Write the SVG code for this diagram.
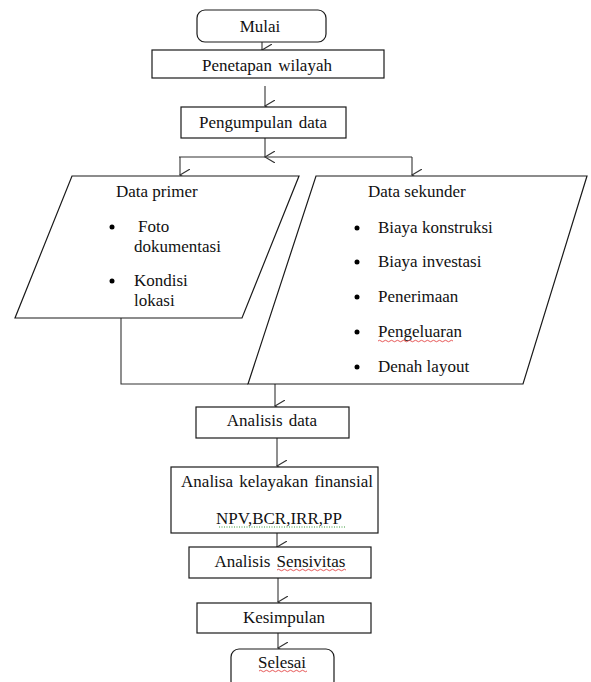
<svg xmlns="http://www.w3.org/2000/svg" width="591" height="682" viewBox="0 0 591 682">
<style>
.box{fill:#fff;stroke:#1a1a1a;stroke-width:1.2}
.ln{fill:none;stroke:#333;stroke-width:1.1}
.t{font-family:"Liberation Serif","Times New Roman",serif;font-size:17px;fill:#111}
.c{text-anchor:middle}
.sq{fill:none;stroke:#e03030;stroke-width:0.8}
.sg{fill:none;stroke:#3a9a3a;stroke-width:1;stroke-dasharray:1 1.5}
</style>
<defs>
<marker id="arr" markerWidth="12" markerHeight="12" refX="6" refY="10" orient="auto" markerUnits="userSpaceOnUse" viewBox="0 0 12 12">
<path d="M0,0 L6,10 L12,0" fill="none" stroke="#333" stroke-width="1.1"/>
</marker>
</defs>
<g id="connectors">
<line class="ln" x1="262" y1="42" x2="262" y2="50" marker-end="url(#arr)"/>
<line class="ln" x1="265" y1="86" x2="265" y2="106" marker-end="url(#arr)"/>
<line class="ln" x1="265" y1="138" x2="265" y2="157" marker-end="url(#arr)"/>
<polyline class="ln" points="179,157 412,157"/>
<line class="ln" x1="180" y1="157" x2="180" y2="175" marker-end="url(#arr)"/>
<line class="ln" x1="412" y1="157" x2="412" y2="175" marker-end="url(#arr)"/>
<polyline class="ln" points="121,318 121,384 248,384"/>
<line class="ln" x1="424" y1="376" x2="424" y2="384"/>
<line class="ln" x1="275" y1="384" x2="275" y2="406" marker-end="url(#arr)"/>
<line class="ln" x1="277" y1="438" x2="277" y2="466" marker-end="url(#arr)"/>
<line class="ln" x1="277" y1="533" x2="277" y2="547" marker-end="url(#arr)"/>
<line class="ln" x1="278" y1="578" x2="278" y2="602" marker-end="url(#arr)"/>
<line class="ln" x1="278" y1="633" x2="278" y2="648" marker-end="url(#arr)"/>
</g>
<g id="mulai">
<rect class="box" x="197" y="10" width="129" height="32" rx="8"/>
<text class="t c" x="260" y="32">Mulai</text>
</g>
<g id="penetapan">
<rect class="box" x="152" y="50" width="232" height="28"/>
<text class="t c" x="267" y="71" word-spacing="2">Penetapan wilayah</text>
</g>
<g id="pengumpulan">
<rect class="box" x="181" y="107" width="165" height="31"/>
<text class="t c" x="263" y="128" word-spacing="2">Pengumpulan data</text>
</g>
<g id="data-primer">
<polygon class="box" points="72,176 299,176 242,318 15,318"/>
<text class="t" x="116" y="197">Data primer</text>
<circle cx="112" cy="227" r="2.5" fill="#000"/>
<text class="t" x="138" y="232">Foto</text>
<text class="t" x="134" y="252">dokumentasi</text>
<circle cx="112" cy="281" r="2.5" fill="#000"/>
<text class="t" x="134" y="286">Kondisi</text>
<text class="t" x="134" y="306">lokasi</text>
</g>
<g id="data-sekunder">
<polygon class="box" points="316,176 587,176 523,384 248,384"/>
<text class="t" x="368" y="197">Data sekunder</text>
<circle cx="357" cy="228" r="2.5" fill="#000"/>
<text class="t" x="378" y="233">Biaya konstruksi</text>
<circle cx="357" cy="262" r="2.5" fill="#000"/>
<text class="t" x="378" y="267">Biaya investasi</text>
<circle cx="357" cy="297" r="2.5" fill="#000"/>
<text class="t" x="378" y="302">Penerimaan</text>
<circle cx="357" cy="332" r="2.5" fill="#000"/>
<text class="t" x="378" y="337">Pengeluaran</text>
<path class="sq" d="M378,341 q1.5,-1.5 3,0 t3,0 t3,0 t3,0 t3,0 t3,0 t3,0 t3,0 t3,0 t3,0 t3,0 t3,0 t3,0 t3,0 t3,0 t3,0 t3,0 t3,0 t3,0 t3,0 t3,0 t3,0 t3,0 t3,0 t3,0"/>
<circle cx="357" cy="367" r="2.5" fill="#000"/>
<text class="t" x="378" y="372">Denah layout</text>
</g>
<g id="analisis-data">
<rect class="box" x="196" y="407" width="153" height="31"/>
<text class="t c" x="272" y="426" word-spacing="2">Analisis data</text>
</g>
<g id="analisa-kelayakan">
<rect class="box" x="171" y="467" width="207" height="66"/>
<text class="t c" x="277" y="487" word-spacing="2">Analisa kelayakan finansial</text>
<text class="t c" x="279" y="524">NPV,BCR,IRR,PP</text>
<path class="sg" d="M219,527 L345,527"/>
</g>
<g id="analisis-sensivitas">
<rect class="box" x="189" y="547" width="182" height="31"/>
<text class="t c" x="280" y="567" word-spacing="2">Analisis Sensivitas</text>
<path class="sq" d="M277,570 q1.5,-1.5 3,0 t3,0 t3,0 t3,0 t3,0 t3,0 t3,0 t3,0 t3,0 t3,0 t3,0 t3,0 t3,0 t3,0 t3,0 t3,0 t3,0 t3,0 t3,0 t3,0 t3,0 t3,0 t3,0"/>
</g>
<g id="kesimpulan">
<rect class="box" x="197" y="603" width="174" height="30"/>
<text class="t c" x="284" y="623">Kesimpulan</text>
</g>
<g id="selesai">
<rect class="box" x="231" y="649" width="103" height="40" rx="8"/>
<text class="t c" x="282" y="668">Selesai</text>
<path class="sq" d="M259,671 q1.5,-1.5 3,0 t3,0 t3,0 t3,0 t3,0 t3,0 t3,0 t3,0 t3,0 t3,0 t3,0 t3,0 t3,0 t3,0 t3,0 t3,0"/>
</g>
</svg>
